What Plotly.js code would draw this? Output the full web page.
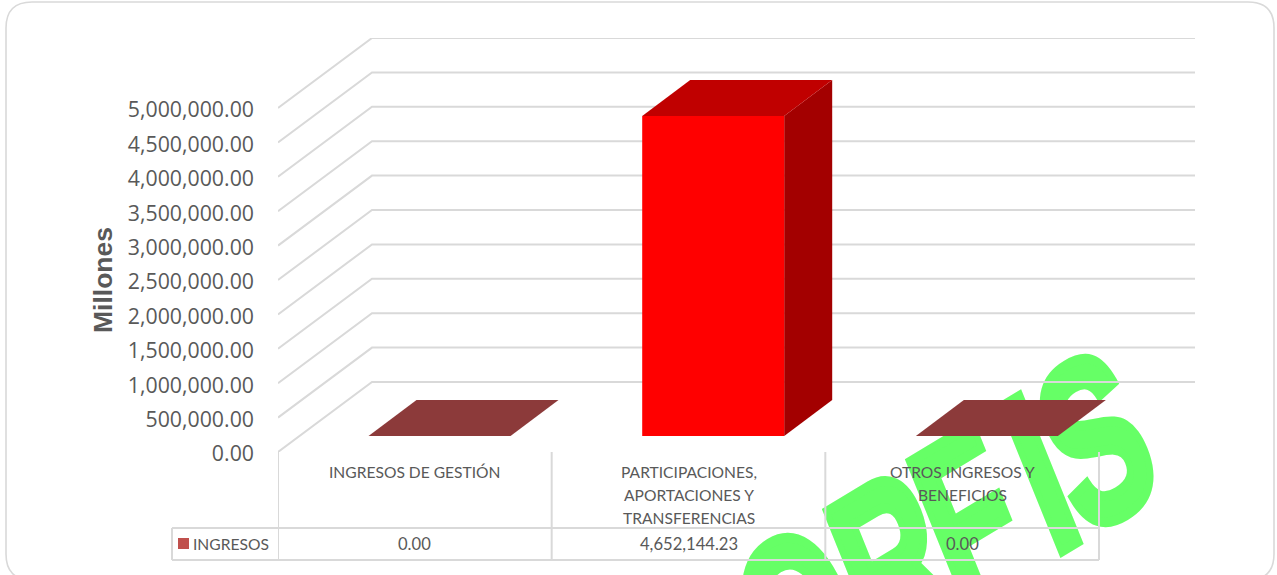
<!DOCTYPE html>
<html><head><meta charset="utf-8">
<script src="https://cdn.plot.ly/plotly-3.0.1.min.js"></script>
<style>html,body{margin:0;padding:0;background:#fff;overflow:hidden}</style>
</head><body><div id="chart" style="width:1277px;height:575px"></div>
<script>
const categories = [["INGRESOS DE GESTIÓN"],["PARTICIPACIONES,","APORTACIONES Y","TRANSFERENCIAS"],["OTROS INGRESOS Y","BENEFICIOS"]];
const seriesName = "INGRESOS";
const values = [0, 4652144.23, 0];
const yTicks = [0,500000,1000000,1500000,2000000,2500000,3000000,3500000,4000000,4500000,5000000];
const axisTitle = "Millones";
const watermark = "ORFIS";

const W=1277,H=575, X0=278, CAT=(1099-278)/3, XEND=1195, Y0=452, Y5M=108, YTOP=38;
const PXV=5e6/(Y0-Y5M), cx=p=>p/CAT, vy=p=>p*PXV, py=p=>1-p/H;
const GRID="#d9d9d9", TXT="#595959";
const wallX=cx(94), wallY=vy(70), endX=(XEND-X0)/CAT;
const barW=cx(142), barGap=(1-barW)/2, barDX=cx(24.7), barDY=vy(16), depX=cx(48), depY=vy(36);
const fmt=v=>v.toLocaleString('en-US',{minimumFractionDigits:2,maximumFractionDigits:2});

const traces=[];
yTicks.forEach(v=>traces.push({type:'scatter',mode:'lines',x:[0,wallX,endX],y:[v,v+wallY,v+wallY],
  line:{color:GRID,width:2},hoverinfo:'skip',cliponaxis:false,showlegend:false}));
const poly=(x,y,c)=>traces.push({type:'scatter',mode:'lines',x:x.concat(x[0]),y:y.concat(y[0]),fill:'toself',fillcolor:c,
  line:{width:0,color:c},hoverinfo:'skip',cliponaxis:false,showlegend:false});
values.forEach((v,i)=>{
  const l=i+barGap+barDX, r=l+barW, b=barDY, t=b+v;
  const zero=v===0;
  if(!zero) poly([r,r+depX,r+depX,r],[b,b+depY,t+depY,t],"#a30000");
  poly([l,l+depX,r+depX,r],[t,t+depY,t+depY,t],zero?"#8c3a3a":"#c00000");
  if(!zero) poly([l,r,r,l],[b,b,t,t],"#ff0000");
});

const shapes=[], annotations=[];
const bx=v=>v/W, by=v=>1-v/H;
const L=6,T=2,R=1274,B=580,Ra=26;
const P=(x,y)=>bx(x)+','+by(y);
shapes.push({type:'path',xref:'paper',yref:'paper',layer:'below',line:{color:GRID,width:1.6},
 path:`M${P(L+Ra,T)} L${P(R-Ra,T)} Q${P(R,T)} ${P(R,T+Ra)} L${P(R,B-Ra)} Q${P(R,B)} ${P(R-Ra,B)} L${P(L+Ra,B)} Q${P(L,B)} ${P(L,B-Ra)} L${P(L,T+Ra)} Q${P(L,T)} ${P(L+Ra,T)} Z`});
shapes.push({type:'rect',xref:'paper',yref:'paper',layer:'below',x0:.7,x1:.9,y0:.1,y1:.6,line:{width:0},fillcolor:'rgba(0,0,0,0)',
 label:{text:'<b>'+watermark+'</b>',textposition:'middle center',font:{family:'Liberation Sans',size:225,color:'#66ff66'}}});
const tl=(x0,y0,x1,y1,xr)=>shapes.push({type:'line',xref:xr,yref:'paper',x0,x1,y0:py(y0),y1:py(y1),line:{color:GRID,width:2}});
for(let i=0;i<=categories.length;i++) tl(i,Y0,i,560,'x');
tl(172/W,528,1099/W,528,'paper'); tl(172/W,560,1099/W,560,'paper'); tl(172/W,528,172/W,560,'paper');
shapes.push({type:'rect',xref:'paper',yref:'paper',x0:178/W,x1:189/W,y0:py(549),y1:py(538),fillcolor:'#c0504d',line:{width:0}});

const note=(text,xref,x,y,font,extra)=>annotations.push(Object.assign({text,xref,yref:'paper',x,y:py(y),showarrow:false,font,xanchor:'center',yanchor:'middle'},extra||{}));
const cf={family:'Lato',size:15.6,color:TXT}, vf={family:'Lato',size:16.6,color:TXT};
categories.forEach((lines,i)=>{
  lines.forEach((s,j)=>note(s,'x',i+.5,472+j*23,cf));
  note(fmt(values[i]),'x',i+.5,544,vf);
});
note(seriesName,'paper',193/W,544,cf,{xanchor:'left',x:191/W});
note(axisTitle,'paper',104/W,280,{family:'Liberation Sans',size:26.5,color:TXT,weight:'bold'},{textangle:-90,x:103/W});

function placeWatermark(gd){
  gd.querySelectorAll('text').forEach(t=>{
    if(t.textContent!==watermark) return;
    t.setAttribute('x',0);t.setAttribute('y',0);t.setAttribute('text-anchor','start');
    t.setAttribute('transform','translate(781,720) rotate(-31) skewX(-9) scale(0.64,1)');
    t.style.stroke='#66ff66';t.style.strokeWidth='10px';t.style.strokeLinejoin='miter';
    t.querySelectorAll('tspan').forEach(s=>{s.removeAttribute('x');s.removeAttribute('y');s.setAttribute('dx','0 0 -11 32 -6');});
  });
}
Plotly.newPlot('chart',traces,{
  width:W,height:H,margin:{l:0,r:0,t:0,b:0},paper_bgcolor:'#fff',plot_bgcolor:'rgba(0,0,0,0)',showlegend:false,
  xaxis:{domain:[X0/W,XEND/W],range:[0,endX],showgrid:false,zeroline:false,showline:false,showticklabels:false,ticks:'',fixedrange:true},
  yaxis:{domain:[py(Y0),py(YTOP)],range:[0,(Y0-YTOP)*PXV],tickmode:'array',tickvals:yTicks,ticktext:yTicks.map(fmt),
    showgrid:false,zeroline:false,showline:false,ticks:'',ticklabelstandoff:23,ticklabelshift:2,tickfont:{family:'Open Sans',size:21.3,color:TXT},fixedrange:true},
  shapes,annotations
},{displayModeBar:false,staticPlot:true}).then(gd=>{
  placeWatermark(gd);
  gd.on && gd.on('plotly_afterplot',()=>placeWatermark(gd));
  requestAnimationFrame(()=>placeWatermark(gd));
});
</script></body></html>
